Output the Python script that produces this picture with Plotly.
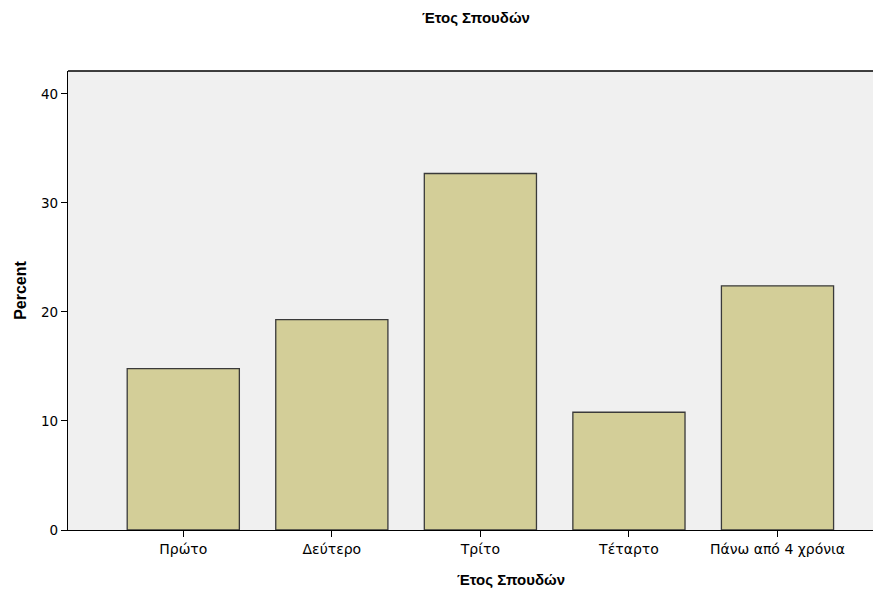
import plotly.graph_objects as go

categories = ["Πρώτο", "Δεύτερο", "Τρίτο", "Τέταρτο", "Πάνω από 4 χρόνια"]
percent = [14.8, 19.3, 32.7, 10.8, 22.4]
y_ticks = [0, 10, 20, 30, 40]

TITLE_FONT = "Liberation Sans, Arial, sans-serif"

fig = go.Figure(go.Bar(
    x=categories, y=percent,
    marker=dict(color="#D3CE98", line=dict(color="#3a3a3a", width=1.3)),
    width=0.755,
))

fig.update_layout(
    width=873, height=585,
    margin=dict(l=60, r=1, t=63, b=63),
    paper_bgcolor="white", plot_bgcolor="#F0F0F0",
    font=dict(family="DejaVu Sans, Liberation Sans, sans-serif", color="black", size=12),
    title=dict(text="<b>Έτος Σπουδών</b>", x=0.536, xanchor="center", y=0.983, yanchor="middle",
               font=dict(size=15, color="black", family=TITLE_FONT)),
    showlegend=False,
)
fig.update_xaxes(
    range=[-0.776, 4.69], showline=True, linecolor="black", linewidth=1.3,
    ticks="outside", ticklen=6, tickcolor="black", showgrid=False,
    tickfont=dict(size=14),
)
fig.update_yaxes(
    range=[0, 42.1], tickvals=y_ticks, showline=True, linecolor="black", linewidth=1.3,
    ticks="outside", ticklen=6, tickcolor="black", showgrid=False, zeroline=False,
    tickfont=dict(size=13.5), mirror=False,
)
fig.add_annotation(text="<b>Έτος Σπουδών</b>", xref="paper", yref="paper",
                   x=0.546, y=-0.108, xanchor="center", yanchor="middle",
                   showarrow=False, font=dict(size=15, family=TITLE_FONT))
fig.add_annotation(text="<b>Percent</b>", xref="paper", yref="paper",
                   x=-0.058, y=0.523, xanchor="center", yanchor="middle", textangle=-90,
                   showarrow=False, font=dict(size=16, family=TITLE_FONT))
fig.add_shape(type="line", xref="paper", yref="paper", x0=0, x1=1, y0=1, y1=1,
              line=dict(color="black", width=1.3))

fig.write_html("out.html")
